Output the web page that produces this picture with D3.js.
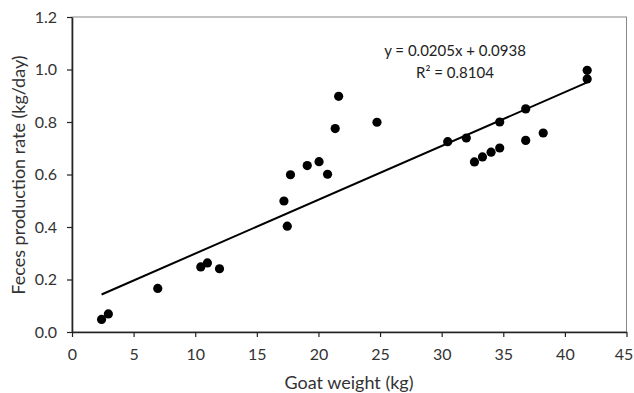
<!DOCTYPE html>
<html><head><meta charset="utf-8">
<script src="https://cdn.jsdelivr.net/npm/d3@7"></script>
<style>body{margin:0;background:#fff;} text{font-family:Lato,"Open Sans",sans-serif;}</style>
</head><body><svg id="c" width="634" height="393"></svg>
<script>
const goatWeight = [2.4,2.95,6.96,10.45,10.99,11.97,17.2,17.47,17.73,19.09,20.05,20.74,21.36,21.64,24.75,30.49,32.0,32.66,33.31,34.01,34.71,34.71,36.82,36.82,38.24,41.81,41.81];
const fecesRate = [0.048,0.069,0.166,0.248,0.263,0.241,0.499,0.403,0.599,0.634,0.649,0.601,0.775,0.898,0.799,0.725,0.739,0.648,0.667,0.685,0.701,0.800,0.850,0.730,0.758,0.997,0.964];
const xTicks = [0,5,10,15,20,25,30,35,40,45];
const yTicks = [0,0.2,0.4,0.6,0.8,1.0,1.2];
const slope = 0.0205, intercept = 0.0938;
const eqLabel = "y = 0.0205x + 0.0938";
const r2Label = "R² = 0.8104";
const xTitle = "Goat weight (kg)";
const yTitle = "Feces production rate (kg/day)";

const svg = d3.select("#c");
const L=72,R=626.5,T=17,B=332;
const x = d3.scaleLinear().domain([0,45]).range([L,R]);
const y = d3.scaleLinear().domain([0,1.2]).range([B,T]);

// frame
svg.append("rect").attr("x",L).attr("y",T).attr("width",R-L).attr("height",B-T)
  .attr("fill","none").attr("stroke","#888").attr("stroke-width",1);

const xa = svg.append("g").attr("transform",`translate(0,${B})`)
  .call(d3.axisBottom(x).tickValues(xTicks).tickFormat(d3.format("d")).tickSize(5).tickSizeOuter(0));
const ya = svg.append("g").attr("transform",`translate(${L},0)`)
  .call(d3.axisLeft(y).tickValues(yTicks).tickFormat(d3.format(".1f")).tickSize(5).tickSizeOuter(0));
[xa,ya].forEach(a=>{
  a.select(".domain").attr("stroke","#222").attr("stroke-width",1.6);
  a.selectAll(".tick line").attr("stroke","#222").attr("stroke-width",1.2);
  a.selectAll("text").attr("font-size",16).attr("fill","#333").style("font-family","Lato, 'Open Sans', sans-serif");
});
xa.selectAll("text").attr("dy","20px");
xa.selectAll(".tick").filter(d=>d===45).select("text").attr("dx","-3px");
ya.selectAll("text").attr("dx","-7px");

// trend line
const xmin=d3.min(goatWeight), xmax=d3.max(goatWeight);
svg.append("line").attr("x1",x(xmin)).attr("y1",y(slope*xmin+intercept))
  .attr("x2",x(xmax)).attr("y2",y(slope*xmax+intercept))
  .attr("stroke","#000").attr("stroke-width",2);

svg.append("g").selectAll("circle").data(goatWeight.map((d,i)=>[d,fecesRate[i]])).join("circle")
  .attr("cx",d=>x(d[0])).attr("cy",d=>y(d[1])).attr("r",4.6).attr("fill","#000");

svg.append("text").attr("x",455).attr("y",56).attr("text-anchor","middle").attr("font-size",15).attr("fill","#222").text(eqLabel);
svg.append("text").attr("x",455).attr("y",78).attr("text-anchor","middle").attr("font-size",15).attr("fill","#222").text(r2Label);

svg.append("text").attr("x",349).attr("y",388.5).attr("text-anchor","middle").attr("font-size",18).attr("fill","#333").text(xTitle);
svg.append("text").attr("transform",`translate(25,175) rotate(-90)`).attr("text-anchor","middle").attr("font-size",18).attr("fill","#333").text(yTitle);
</script></body></html>
